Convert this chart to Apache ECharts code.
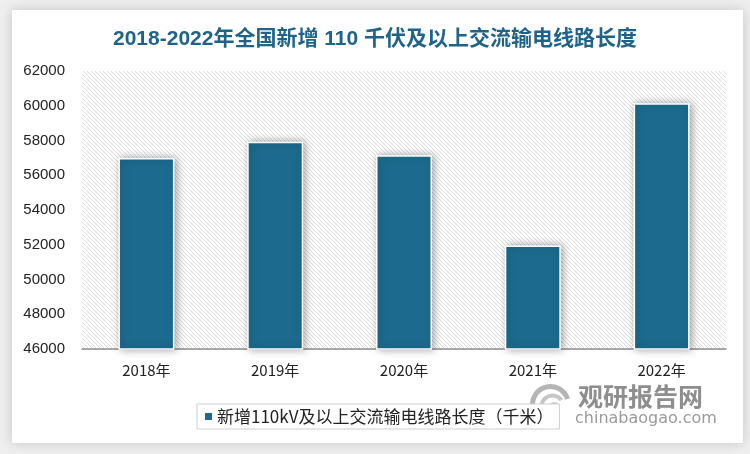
<!DOCTYPE html>
<html>
<head>
<meta charset="utf-8">
<script src="https://cdn.jsdelivr.net/npm/echarts@6/dist/echarts.min.js"></script>
<style>
html,body{margin:0;padding:0;background:#efefef;}
#main{width:750px;height:454px;}
</style>
</head>
<body>
<div id="main"></div>
<script>
var titleText = '2018-2022年全国新增 110 千伏及以上交流输电线路长度';
var categories = ['2018年', '2019年', '2020年', '2021年', '2022年'];
var seriesName = '新增110kV及以上交流输电线路长度（千米）';
var values = [57000, 57930, 57150, 51950, 60140];
var yTicks = [46000, 48000, 50000, 52000, 54000, 56000, 58000, 60000, 62000];

var cv = document.createElement('canvas');
cv.width = 4; cv.height = 4;
var cx = cv.getContext('2d');
cx.fillStyle = '#ffffff';
cx.fillRect(0, 0, 4, 4);
cx.strokeStyle = '#dedede';
cx.lineWidth = 1;
cx.beginPath();
cx.moveTo(-1, -1); cx.lineTo(5, 5);
cx.moveTo(-1, 3); cx.lineTo(1, 5);
cx.moveTo(3, -1); cx.lineTo(5, 1);
cx.stroke();

var chart = echarts.init(document.getElementById('main'), null, {renderer: 'canvas'});
var option = {
  backgroundColor: '#efefef',
  animation: false,
  title: {
    text: titleText,
    left: 'center',
    top: 24,
    textStyle: {
      fontSize: 21,
      fontWeight: 'bold',
      color: '#1f6388',
      fontFamily: 'Liberation Sans Narrow, Liberation Sans, Noto Sans CJK SC, sans-serif'
    }
  },
  graphic: [
    {
      type: 'rect', z: -10, silent: true,
      shape: {x: 12, y: 10, width: 731, height: 433},
      style: {fill: '#ffffff', shadowBlur: 12, shadowColor: 'rgba(0,0,0,0.18)'}
    },
    {
      type: 'group', left: 530, top: 384, silent: true,
      children: [
        {type: 'arc', shape: {cx: 22, cy: 20, r: 18, startAngle: Math.PI * 0.9, endAngle: Math.PI * 1.9}, style: {stroke: '#b5b5b5', lineWidth: 5, fill: null}},
        {type: 'arc', shape: {cx: 24, cy: 22, r: 11, startAngle: Math.PI * 0.8, endAngle: Math.PI * 1.8}, style: {stroke: '#c5c5c5', lineWidth: 4, fill: null}},
        {type: 'arc', shape: {cx: 26, cy: 24, r: 5, startAngle: Math.PI * 0.7, endAngle: Math.PI * 1.7}, style: {stroke: '#d0d0d0', lineWidth: 3, fill: null}}
      ]
    },
    {
      type: 'text', left: 578, top: 384, silent: true,
      style: {text: '观研报告网', fill: '#8e8e8e', font: 'bold 25px "Noto Sans CJK SC", sans-serif'}
    },
    {
      type: 'text', left: 575, top: 411, silent: true,
      style: {text: 'chinabaogao.com', fill: '#9a9a9a', font: '16px "DejaVu Sans", sans-serif'}
    }
  ],
  grid: {
    left: 82, right: 24, top: 71, bottom: 105,
    show: true,
    borderWidth: 0,
    backgroundColor: {image: cv, repeat: 'repeat'}
  },
  legend: {
    data: [seriesName],
    left: 197, top: 404,
    icon: 'rect',
    itemWidth: 9, itemHeight: 9, itemGap: 6,
    borderColor: '#cfcfcf', borderWidth: 1,
    padding: [4, 6, 4, 6],
    backgroundColor: '#ffffff',
    textStyle: {fontSize: 17, color: '#222', fontFamily: 'Noto Sans CJK SC, sans-serif', padding: [0, 0, 0, -1]}
  },
  xAxis: {
    type: 'category',
    data: categories,
    axisLine: {lineStyle: {color: '#8c8c8c', width: 1.5}},
    axisTick: {show: false},
    axisLabel: {fontSize: 15, color: '#222', margin: 14, fontFamily: 'Noto Sans CJK SC, sans-serif'}
  },
  yAxis: {
    type: 'value',
    min: yTicks[0], max: yTicks[yTicks.length - 1], interval: 2000,
    axisLine: {show: false},
    axisTick: {show: false},
    splitLine: {show: false},
    axisLabel: {
      fontSize: 15, color: '#222', margin: 17, fontFamily: 'Liberation Sans, sans-serif',
      formatter: function (v) { return String(v); }
    }
  },
  series: [{
    name: seriesName,
    type: 'bar',
    data: values,
    barWidth: 56,
    itemStyle: {
      color: '#1c6b8e',
      borderColor: '#ffffff',
      borderWidth: 1.5,
      shadowBlur: 8,
      shadowColor: 'rgba(0,0,0,0.35)',
      shadowOffsetX: 2,
      shadowOffsetY: 0
    }
  }]
};
chart.setOption(option);
</script>
</body>
</html>
